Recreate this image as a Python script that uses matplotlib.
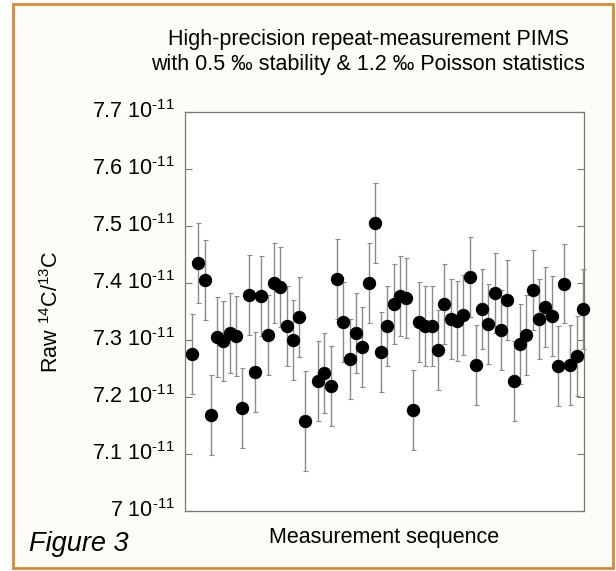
import matplotlib
matplotlib.use("Agg")
import matplotlib.pyplot as plt
from matplotlib.patches import Rectangle
from matplotlib.transforms import ScaledTranslation

plt.rcParams['font.family'] = ['Liberation Sans', 'DejaVu Sans']
plt.rcParams['mathtext.fontset'] = 'custom'
plt.rcParams['mathtext.rm'] = 'Liberation Sans'
plt.rcParams['mathtext.it'] = 'Liberation Sans:italic'

# measurement index (index 19 has no visible point)
seq = list(range(19)) + list(range(20, 63))
# raw 14C/13C ratio, in units of 1e-11
ratio = [7.275, 7.435, 7.405, 7.168, 7.305, 7.298, 7.312, 7.307, 7.181, 7.379,
         7.244, 7.377, 7.309, 7.400, 7.393, 7.325, 7.300, 7.340, 7.158,
         7.228, 7.242, 7.219, 7.407, 7.332, 7.267, 7.312, 7.288, 7.400, 7.505,
         7.279, 7.325, 7.363, 7.377, 7.374, 7.177, 7.331, 7.325, 7.324, 7.282,
         7.363, 7.337, 7.334, 7.344, 7.411, 7.256, 7.354, 7.328, 7.382, 7.318,
         7.370, 7.228, 7.293, 7.309, 7.388, 7.337, 7.358, 7.342, 7.254, 7.399,
         7.256, 7.272, 7.354]
err = [0.07] * len(ratio)
err[18] = 0.088

yticks = [7.0, 7.1, 7.2, 7.3, 7.4, 7.5, 7.6, 7.7]
ytick_labels = [r"7 10$^{\text{-11}}$", r"7.1 10$^{\text{-11}}$", r"7.2 10$^{\text{-11}}$",
                r"7.3 10$^{\text{-11}}$", r"7.4 10$^{\text{-11}}$", r"7.5 10$^{\text{-11}}$",
                r"7.6 10$^{\text{-11}}$", r"7.7 10$^{\text{-11}}$"]

W, H = 616, 571
fig = plt.figure(figsize=(W / 100, H / 100), dpi=100, facecolor='white')
fig.patches.append(Rectangle((13 / W, 1 - 568 / H), (613 - 13) / W, (568 - 4) / H,
                             transform=fig.transFigure, facecolor='#fefcf7',
                             edgecolor='#d88a34', linewidth=2, zorder=-5))

ax = fig.add_axes([185 / W, 1 - 511 / H, (584 - 185) / W, (511 - 112) / H])
ax.set_zorder(2)
ax.set_facecolor('white')
ax.errorbar(seq, ratio, yerr=err, fmt='o', color='black', markersize=8.6,
            ecolor='#8a8a8a', elinewidth=1, capsize=1.8, capthick=0.8,
            clip_on=False, zorder=3)
ax.set_xlim(-1.1, 62.15)
ax.set_ylim(7.0, 7.7)
ax.set_xticks([])
ax.set_yticks(yticks)
ax.set_yticklabels(ytick_labels)
ax.tick_params(axis='y', direction='in', length=5, width=0.8, color='#777777',
               right=True, labelsize=15.5, pad=7)
for lbl in ax.get_yticklabels():
    lbl.set_transform(lbl.get_transform() + ScaledTranslation(0, 3 / 100, fig.dpi_scale_trans))
for s in ax.spines.values():
    s.set_color('#777777')
    s.set_linewidth(0.9)

fig.text(368 / W, 1 - 52 / H,
         "High-precision repeat-measurement PIMS\nwith 0.5 \u2030 stability & 1.2 \u2030 Poisson statistics",
         ha='center', va='center', fontsize=15.5, linespacing=1.25)
fig.text(52 / W, 1 - 312 / H, "Raw $^{14}$C/$^{13}$C", rotation=90,
         ha='center', va='center', fontsize=15.5)
fig.text(384 / W, 1 - 537 / H, "Measurement sequence", ha='center', va='center',
         fontsize=15.5)
fig.text(29 / W, 1 - 544 / H, "Figure 3", ha='left', va='center', fontsize=19.5,
         style='italic')

plt.savefig("out.png", dpi=100)
